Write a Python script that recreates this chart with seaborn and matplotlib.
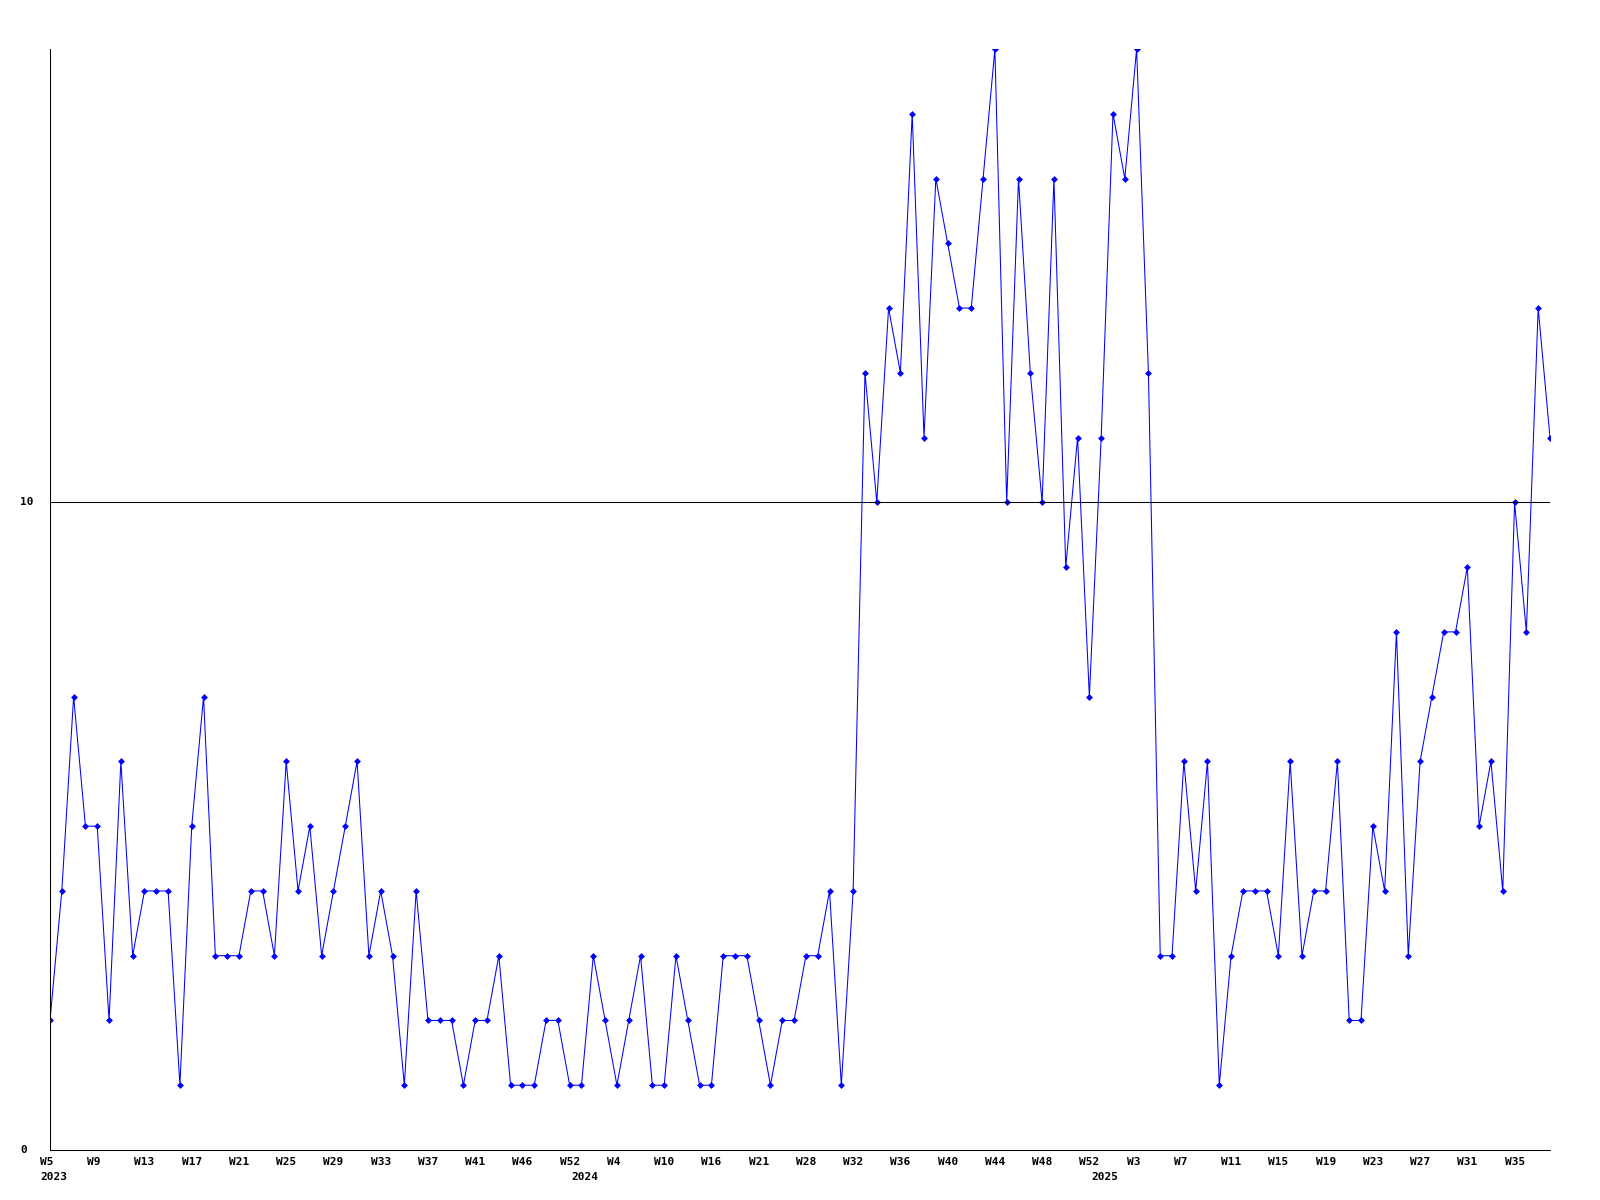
import matplotlib
matplotlib.use('Agg')
import matplotlib.pyplot as plt
import numpy as np
import pandas as pd
import seaborn as sns

# weekly counts, 2023 W5 -> 2025 W37 (some weeks missing)
values = [2, 4, 7, 5, 5, 2, 6, 3, 4, 4, 4, 1, 5, 7, 3, 3, 3, 4, 4, 3,
          6, 4, 5, 3, 4, 5, 6, 3, 4, 3, 1, 4, 2, 2, 2, 1, 2, 2, 3, 1,
          1, 1, 2, 2, 1, 1, 3, 2, 1, 2, 3, 1, 1, 3, 2, 1, 1, 3, 3, 3,
          2, 1, 2, 2, 3, 3, 4, 1, 4, 12, 10, 13, 12, 16, 11, 15, 14, 13, 13, 15,
          17, 10, 15, 12, 10, 15, 9, 11, 7, 11, 16, 15, 17, 12, 3, 3, 6, 4, 6, 1,
          3, 4, 4, 4, 3, 6, 3, 4, 4, 6, 2, 2, 5, 4, 8, 3, 6, 7, 8, 8,
          9, 5, 6, 4, 10, 8, 13, 11]

# one label every 4th point
week_ticks = ['W5', 'W9', 'W13', 'W17', 'W21', 'W25', 'W29', 'W33', 'W37', 'W41',
              'W46', 'W52', 'W4', 'W10', 'W16', 'W21', 'W28', 'W32', 'W36', 'W40',
              'W44', 'W48', 'W52', 'W3', 'W7', 'W11', 'W15', 'W19', 'W23', 'W27',
              'W31', 'W35']
years = ['2023', '2024', '2025']
year_first_point = [0, 45, 89]

sns.set_style('white')
plt.rcParams['font.family'] = ['DejaVu Sans Mono']

df = pd.DataFrame({'point': np.arange(len(values)), 'count': values})

fig = plt.figure(figsize=(16, 12), dpi=100)
ax = fig.add_axes([50 / 1600, 50 / 1200, 1500 / 1600, 1101 / 1200])

sns.lineplot(data=df, x='point', y='count', ax=ax, color='#0000ff', lw=0.75,
             marker='D', markersize=3.5, markeredgewidth=0)
ax.axhline(10, color='black', lw=0.75)

ax.set_xlim(0, len(values) - 1)
ax.set_ylim(0, 17)
ax.set_xticks([])
ax.set_yticks([])
ax.set_xlabel('')
ax.set_ylabel('')
for s in ['top', 'right']:
    ax.spines[s].set_visible(False)
for s in ['left', 'bottom']:
    ax.spines[s].set_color('black')
    ax.spines[s].set_linewidth(0.75)

txt = dict(ha='left', va='center', fontsize=8, fontweight='bold',
           color='black', annotation_clip=False)

for k, lbl in enumerate(week_ticks):
    ax.annotate(lbl, xy=(4 * k, 0), xycoords=('data', 'axes fraction'),
                xytext=(-10, -12), textcoords='offset pixels', **txt)
for yr, pos in zip(years, year_first_point):
    ax.annotate(yr, xy=(pos, 0), xycoords=('data', 'axes fraction'),
                xytext=(-10, -27), textcoords='offset pixels', **txt)
for v in [0, 10]:
    ax.annotate(str(v), xy=(20, v), xycoords=('figure pixels', 'data'), **txt)

fig.savefig('out.png', dpi=100)
